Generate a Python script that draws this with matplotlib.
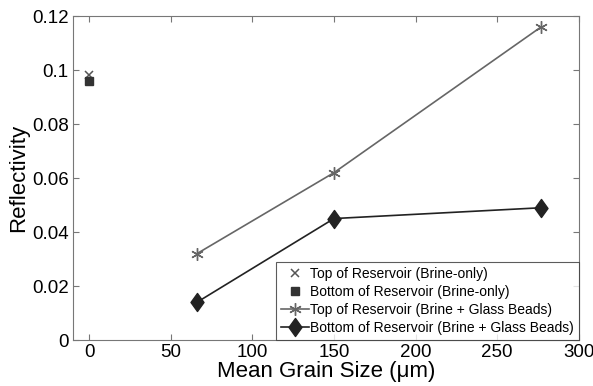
import matplotlib
matplotlib.use('Agg')
import matplotlib.pyplot as plt
from matplotlib.path import Path

plt.rcParams['font.family'] = ['Liberation Sans', 'DejaVu Sans']

# brine-only measurements (grain size 0)
brine_x = [0]
brine_top = [0.098]
brine_bottom = [0.096]

# brine + glass beads measurements
grain = [66, 150, 277]
beads_top = [0.032, 0.062, 0.116]
beads_bottom = [0.014, 0.045, 0.049]

xticks = [0, 50, 100, 150, 200, 250, 300]
yticks = [0, 0.02, 0.04, 0.06, 0.08, 0.1, 0.12]
yticklabels = ['0', '0.02', '0.04', '0.06', '0.08', '0.1', '0.12']

# matlab-style narrow diamond
diamond = Path([(0, 1), (0.72, 0), (0, -1), (-0.72, 0), (0, 1)],
               [Path.MOVETO, Path.LINETO, Path.LINETO, Path.LINETO, Path.CLOSEPOLY])

fig = plt.figure(figsize=(5.93, 3.86), dpi=100)
ax = fig.add_axes([0.123, 0.119, 0.853, 0.8395])

ax.plot(brine_x, brine_top, 'x', color='#555555', ms=6, mew=1.1,
        label='Top of Reservoir (Brine-only)')
ax.plot(brine_x, brine_bottom, 's', color='#333333', ms=6,
        label='Bottom of Reservoir (Brine-only)')
ax.plot(grain, beads_top, '-', marker=(6, 2, 0), color='#666666', lw=1.2,
        ms=9, mew=1.0, label='Top of Reservoir (Brine + Glass Beads)')
ax.plot(grain, beads_bottom, '-', marker=diamond, color='#222222', lw=1.2,
        ms=13, label='Bottom of Reservoir (Brine + Glass Beads)')

ax.set_xlim(-10, 300)
ax.set_ylim(0, 0.12)
ax.set_xticks(xticks)
ax.set_yticks(yticks)
ax.set_yticklabels(yticklabels)
ax.tick_params(direction='in', top=True, right=True, length=4,
               color='#777777', labelsize=13.5, pad=3)
for s in ax.spines.values():
    s.set_color('#777777')

ax.set_xlabel('Mean Grain Size (\u03bcm)', fontsize=16, labelpad=0)
ax.set_ylabel('Reflectivity', fontsize=16, labelpad=2)

leg = ax.legend(loc='lower right', fontsize=10, fancybox=False,
                borderaxespad=0, handlelength=2.0, handletextpad=0.1,
                borderpad=0.35, labelspacing=0.3, numpoints=1)
leg.get_frame().set_edgecolor('#333333')
leg.get_frame().set_linewidth(0.8)

fig.savefig('out.png', dpi=100)
